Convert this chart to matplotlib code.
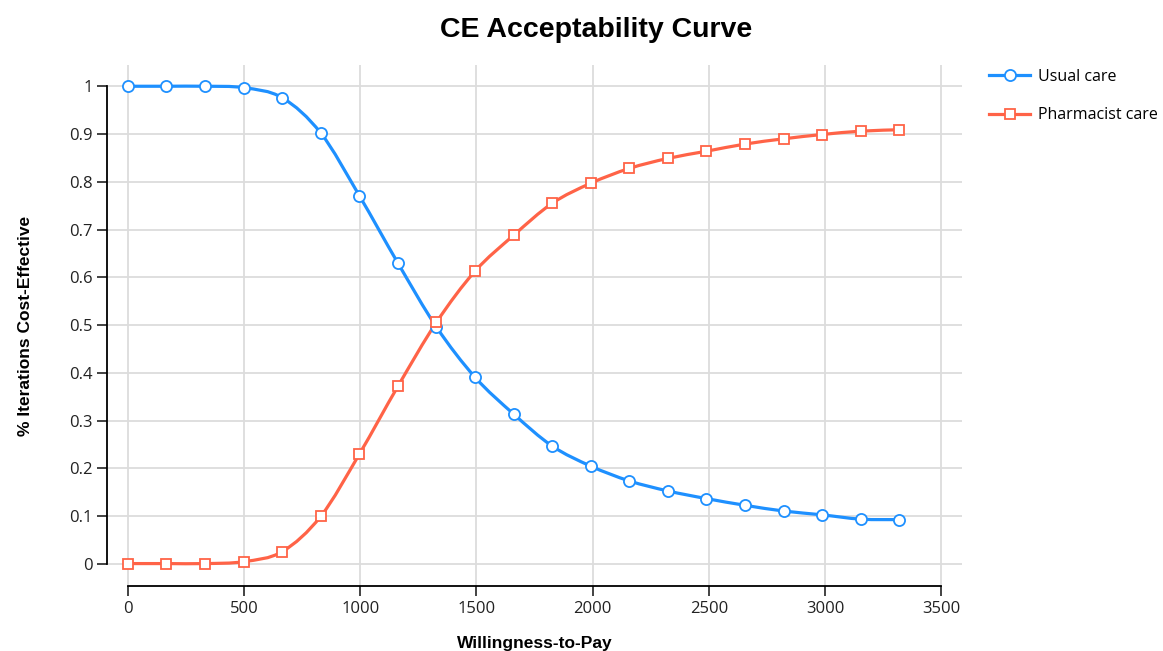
import matplotlib.pyplot as plt
import numpy as np
from matplotlib.path import Path
from matplotlib.patches import PathPatch
from matplotlib.lines import Line2D

wtp = [0, 166, 332, 498, 664, 830, 996, 1162, 1328, 1494, 1660,
       1826, 1992, 2158, 2324, 2490, 2656, 2822, 2988, 3154, 3320]
usual_care = [1.0, 1.0, 1.0, 0.997, 0.976, 0.902, 0.771, 0.63, 0.496, 0.391, 0.314,
              0.247, 0.205, 0.174, 0.153, 0.137, 0.123, 0.111, 0.103, 0.094, 0.093]
pharmacist_care = [0.001, 0.001, 0.001, 0.005, 0.026, 0.1, 0.23, 0.372, 0.506, 0.613, 0.688,
                   0.755, 0.797, 0.828, 0.849, 0.864, 0.879, 0.89, 0.899, 0.906, 0.909]
x_ticks = [0, 500, 1000, 1500, 2000, 2500, 3000, 3500]
y_ticks = [0, 0.1, 0.2, 0.3, 0.4, 0.5, 0.6, 0.7, 0.8, 0.9, 1]
y_ticklabels = ["0", "0.1", "0.2", "0.3", "0.4", "0.5", "0.6", "0.7", "0.8", "0.9", "1"]

blue = "#1E90FF"
red = "#FF6347"


def smooth_path(xs, ys):
    # cardinal spline through the points, as cubic bezier segments
    p = np.column_stack([xs, ys]).astype(float)
    n = len(p)
    verts = [p[0]]
    codes = [Path.MOVETO]
    for i in range(n - 1):
        p0 = p[i - 1] if i > 0 else p[i]
        p3 = p[i + 2] if i + 2 < n else p[i + 1]
        c1 = p[i] + (p[i + 1] - p0) / 6
        c2 = p[i + 1] - (p3 - p[i]) / 6
        verts += [c1, c2, p[i + 1]]
        codes += [Path.CURVE4] * 3
    return Path(verts, codes)


plt.rcParams['font.family'] = ['Open Sans', 'DejaVu Sans']

fig = plt.figure(figsize=(11.63, 6.51), dpi=100)
ax = fig.add_axes([0.092, 0.0998, 0.735, 0.8])

for ys, col, mk, ms in [(usual_care, blue, "o", 8), (pharmacist_care, red, "s", 7)]:
    ax.add_patch(PathPatch(smooth_path(wtp, ys), facecolor="none", edgecolor=col, lw=2.3, zorder=3))
    ax.plot(wtp, ys, linestyle="none", marker=mk, markersize=ms, markerfacecolor="white",
            markeredgecolor=col, markeredgewidth=1.3, zorder=4)

ax.set_xlim(-90, 3589)
ax.set_ylim(-0.046, 1.044)
ax.set_xticks(x_ticks)
ax.set_yticks(y_ticks)
ax.set_yticklabels(y_ticklabels)
ax.grid(True, color="#dcdcdc", lw=1.3)
ax.set_axisbelow(True)
ax.tick_params(labelsize=12, length=7, width=1.2, color="#222222", labelcolor="#222222")

for s in ["top", "right"]:
    ax.spines[s].set_visible(False)
ax.spines["left"].set_bounds(0, 1)
ax.spines["bottom"].set_bounds(0, 3500)
ax.spines["left"].set_linewidth(1.3)
ax.spines["bottom"].set_linewidth(1.3)

ax.set_xlabel("Willingness-to-Pay", fontsize=12.5, fontweight="bold", family="Liberation Sans", labelpad=14)
ax.set_ylabel("% Iterations Cost-Effective", fontsize=12.5, fontweight="bold", family="Liberation Sans", labelpad=26)
fig.text(0.513, 0.954, "CE Acceptability Curve", ha="center", va="center",
         fontsize=20.5, fontweight="bold", family="Liberation Sans")

handles = [Line2D([], [], color=blue, lw=2.3, marker="o", markersize=8, markerfacecolor="white",
                  markeredgecolor=blue, markeredgewidth=1.3),
           Line2D([], [], color=red, lw=2.3, marker="s", markersize=7, markerfacecolor="white",
                  markeredgecolor=red, markeredgewidth=1.3)]
fig.legend(handles, ["Usual care", "Pharmacist care"], loc="upper left", bbox_to_anchor=(0.838, 0.916),
           frameon=False, fontsize=11.5, handlelength=2.6, labelspacing=1.4, handletextpad=0.5)

fig.savefig("out.png", dpi=100)
